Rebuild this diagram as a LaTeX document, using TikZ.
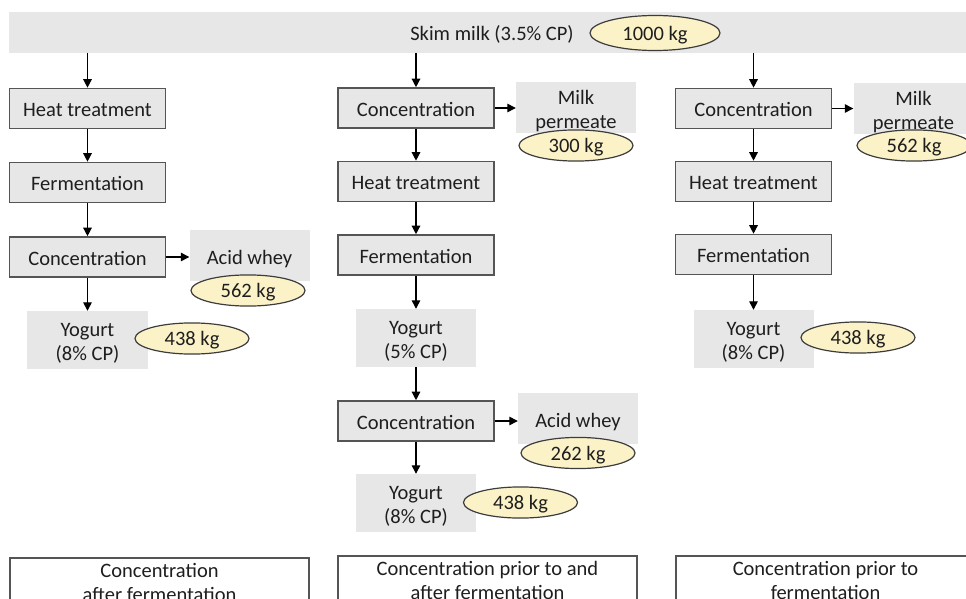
\documentclass[tikz,border=0pt]{standalone}
\usepackage{fontspec}
\setmainfont{Carlito}
\usetikzlibrary{arrows.meta,shapes.geometric}
\definecolor{boxfill}{HTML}{E7E7E7}
\definecolor{boxline}{HTML}{555555}
\definecolor{ellfill}{HTML}{FCF2C8}
\definecolor{ellline}{HTML}{3C3C3C}
\definecolor{txt}{HTML}{1E1E1E}
\newcommand{\upst}{\rule{0pt}{20.5bp}}
\begin{document}
\begin{tikzpicture}[x=1bp,y=-1bp,
 font=\fontsize{20.5bp}{24bp}\selectfont, text=txt,
 proc/.style={draw=boxline, fill=boxfill, line width=1.6bp, minimum width=156bp, minimum height=40bp, inner sep=0pt, execute at begin node=\rule{0pt}{16.5bp}},
 prod/.style={fill=boxfill, minimum width=120bp, minimum height=58bp, inner sep=0pt, align=center},
 side/.style={fill=boxfill, minimum width=120bp, minimum height=51bp, inner sep=0pt, align=center},
 mass/.style={ellipse, draw=ellline, fill=ellfill, line width=1.2bp, minimum width=114bp, minimum height=29bp, inner sep=0pt, execute at begin node=\rule{0pt}{18.5bp}},
 capbox/.style={draw=boxline, fill=white, line width=1.6bp, minimum width=299bp, minimum height=50bp, inner sep=0pt, align=center, anchor=north},
 arr/.style={-{Triangle[width=8.5bp,length=8.5bp]}, line width=1.3bp, black}]
\useasboundingbox (0,0) rectangle (966,599);
\clip (0,0) rectangle (966,599);
% banner
\node[fill=boxfill, minimum width=966bp, minimum height=41bp, inner sep=0pt, execute at begin node=\rule{0pt}{18.5bp}] (banner) at (492,32.5) {Skim milk (3.5\% CP)};
\node[mass, minimum width=130bp, minimum height=35bp] (e0) at (655,33) {1000 kg};
% column 1
\node[proc] (h1) at (87.5,108.5) {Heat treatment};
\node[proc] (f1) at (87.5,182.5) {Fermentation};
\node[proc] (c1) at (87.5,257) {Concentration};
\node[side] (aw1) at (249.5,255.5) {\upst Acid whey};
\node[mass] (e1) at (248,290.5) {562 kg};
\node[prod] (y1) at (87.5,340) {\upst Yogurt\\(8\% CP)};
\node[mass] (e2) at (192,338.5) {438 kg};
\node[capbox] (b1) at (159.5,557) {Concentration\\after fermentation};
\draw[arr] (banner.south -| h1.north) -- (h1.north);
\draw[arr] (h1.south) -- (f1.north);
\draw[arr] (f1.south) -- (c1.north);
\draw[arr] (c1.south) -- (c1.south |- y1.north);
\draw[arr] (c1.east) -- (c1.east -| aw1.west);
% column 2
\node[proc] (c2) at (416,108) {Concentration};
\node[proc] (h2) at (416,181.5) {Heat treatment};
\node[proc] (f2) at (416,255) {Fermentation};
\node[prod] (y2) at (416,338) {\upst Yogurt\\(5\% CP)};
\node[proc] (c3) at (416,421) {Concentration};
\node[prod] (y3) at (416,503) {\upst Yogurt\\(8\% CP)};
\node[mass] (e3) at (520.5,502.5) {438 kg};
\node[side] (mp1) at (576,107.5) {\upst Milk\\permeate};
\node[mass] (e4) at (576,145.5) {300 kg};
\node[side] (aw2) at (578,418.5) {\upst Acid whey};
\node[mass] (e5) at (578,453) {262 kg};
\node[capbox] (b2) at (487.5,555) {Concentration prior to and\\after fermentation};
\draw[arr] (banner.south -| c2.north) -- (c2.north);
\draw[arr] (c2.south) -- (h2.north);
\draw[arr] (h2.south) -- (f2.north);
\draw[arr] (f2.south) -- (y2.north);
\draw[arr] (y2.south) -- (c3.north);
\draw[arr] (c3.south) -- (y3.north);
\draw[arr] (c2.east) -- (c2.east -| mp1.west);
\draw[arr] (c3.east) -- (c3.east -| aw2.west);
% column 3
\node[proc] (c4) at (753.5,108.5) {Concentration};
\node[proc] (h3) at (753.5,181.5) {Heat treatment};
\node[proc] (f3) at (753.5,254.5) {Fermentation};
\node[prod] (y4) at (753.5,339) {\upst Yogurt\\(8\% CP)};
\node[mass] (e6) at (858,337.5) {438 kg};
\node[side] (mp2) at (913.5,108.5) {\upst Milk\\permeate};
\node[mass] (e7) at (914,145.5) {562 kg};
\node[capbox] (b3) at (825.5,555) {Concentration prior to\\fermentation};
\draw[arr] (banner.south -| c4.north) -- (c4.north);
\draw[arr] (c4.south) -- (h3.north);
\draw[arr] (h3.south) -- (f3.north);
\draw[arr] (f3.south) -- (y4.north);
\draw[arr] (c4.east) -- (c4.east -| mp2.west);
\end{tikzpicture}
\end{document}
